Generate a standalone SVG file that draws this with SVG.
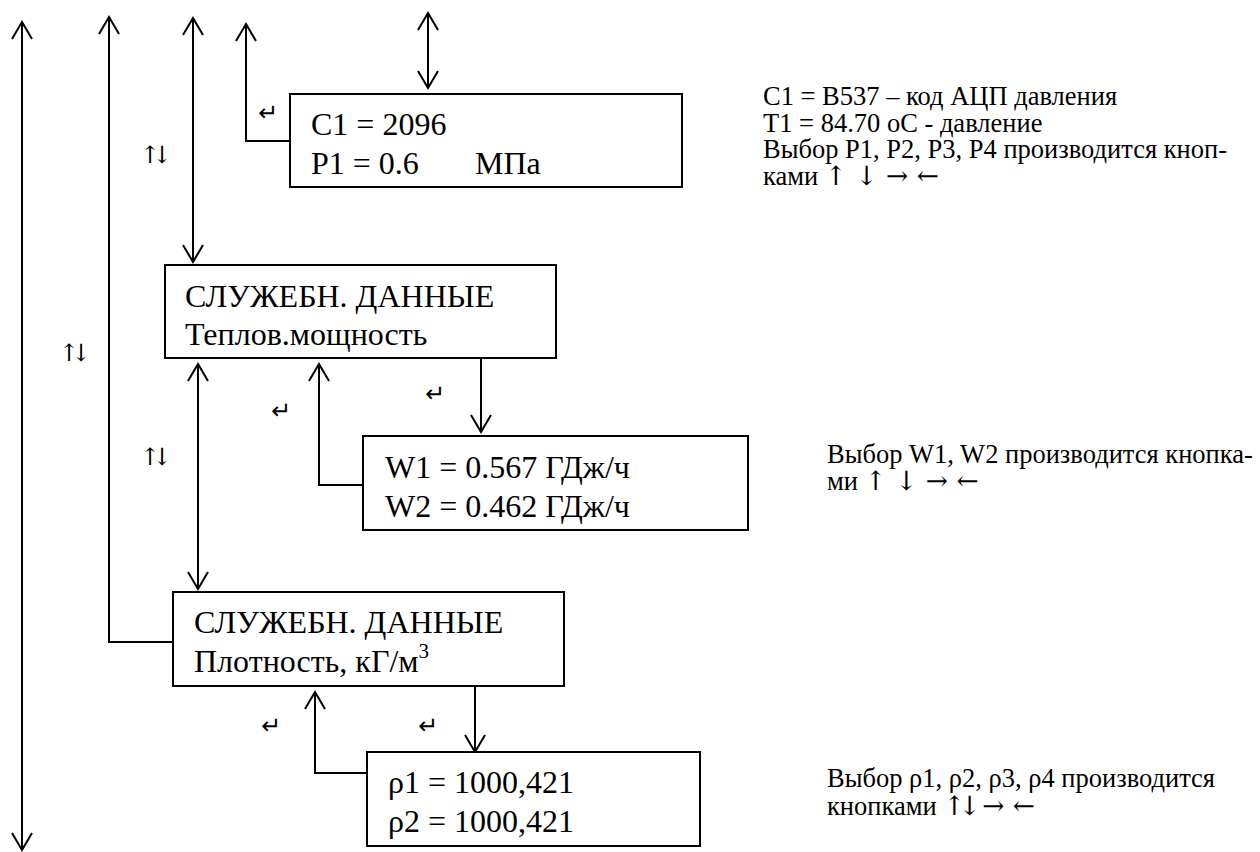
<svg xmlns="http://www.w3.org/2000/svg" width="1260" height="852" viewBox="0 0 1260 852">
<style>
.box{fill:#fff;stroke:#000;stroke-width:2}
.t{font-family:"Liberation Serif","Times New Roman",serif;font-size:32px;fill:#000}
.n{font-family:"Liberation Serif","Times New Roman",serif;font-size:26.5px;fill:#000}
.a{font-family:"DejaVu Serif","DejaVu Sans",serif}
.s{font-family:"DejaVu Serif","DejaVu Sans",serif;font-size:24px;fill:#000;letter-spacing:-8px}
.r{font-family:"DejaVu Sans",sans-serif;font-size:24px;fill:#000}
.c{fill:none;stroke:#000;stroke-width:2}
</style>
<defs>
<marker id="ah" markerUnits="userSpaceOnUse" markerWidth="22" markerHeight="26" viewBox="-19 -13 22 26" refX="0" refY="0" orient="auto-start-reverse">
<path d="M-17,-10 L0,0 L-17,10" fill="none" stroke="#000" stroke-width="2"/>
</marker>
</defs>
<rect width="1260" height="852" fill="#fff"/>
<g id="connectors">
<path class="c" d="M22,22 L22,850" marker-start="url(#ah)" marker-end="url(#ah)"/>
<path class="c" d="M173,642 L109,642 L109,17" marker-end="url(#ah)"/>
<path class="c" d="M193,18 L193,262" marker-start="url(#ah)" marker-end="url(#ah)"/>
<path class="c" d="M290,141 L246,141 L246,24" marker-end="url(#ah)"/>
<path class="c" d="M428,13 L428,88" marker-start="url(#ah)" marker-end="url(#ah)"/>
<path class="c" d="M198,364 L198,589" marker-start="url(#ah)" marker-end="url(#ah)"/>
<path class="c" d="M363,485 L319,485 L319,364" marker-end="url(#ah)"/>
<path class="c" d="M481,358 L481,432" marker-end="url(#ah)"/>
<path class="c" d="M367,773 L315,773 L315,692" marker-end="url(#ah)"/>
<path class="c" d="M475,686 L475,752" marker-end="url(#ah)"/>
</g>
<g id="node-p">
<rect class="box" x="290" y="94" width="392" height="93"/>
<text class="t" x="311" y="135">C1 = 2096</text>
<text class="t" x="311" y="174">P1 = 0.6<tspan x="475">МПа</tspan></text>
</g>
<g id="node-heat">
<rect class="box" x="165" y="265" width="391" height="93"/>
<text class="t" x="185" y="307">СЛУЖЕБН. ДАННЫЕ</text>
<text class="t" x="185" y="345">Теплов.мощность</text>
</g>
<g id="node-w">
<rect class="box" x="363" y="436" width="385" height="94"/>
<text class="t" x="385" y="478">W1 = 0.567 ГДж/ч</text>
<text class="t" x="385" y="517">W2 = 0.462 ГДж/ч</text>
</g>
<g id="node-dens">
<rect class="box" x="173" y="592" width="391" height="94"/>
<text class="t" x="194" y="633">СЛУЖЕБН. ДАННЫЕ</text>
<text class="t" x="194" y="672">Плотность, кГ/м<tspan font-size="21" dy="-14">3</tspan></text>
</g>
<g id="node-rho">
<rect class="box" x="367" y="752" width="333" height="94"/>
<text class="t" x="388" y="793">ρ1 = 1000,421</text>
<text class="t" x="388" y="832">ρ2 = 1000,421</text>
</g>
<g id="labels">
<text class="r" x="258" y="121">↵</text>
<text class="r" x="271" y="419">↵</text>
<text class="r" x="425" y="402">↵</text>
<text class="r" x="261" y="734">↵</text>
<text class="r" x="418" y="734">↵</text>
<text class="s" x="140" y="163">↑↓</text>
<text class="s" x="59" y="361">↑↓</text>
<text class="s" x="140" y="465">↑↓</text>
</g>
<g id="notes">
<text class="n" x="763" y="105">C1 = B537 – код АЦП давления</text>
<text class="n" x="763" y="132">T1 = 84.70 оС - давление</text>
<text class="n" x="763" y="158">Выбор P1, P2, P3, P4 производится кноп-</text>
<text class="n" x="763" y="185">ками <tspan class="a">↑ ↓ → ←</tspan></text>
<text class="n" x="827" y="463">Выбор W1, W2 производится кнопка-</text>
<text class="n" x="827" y="490">ми <tspan class="a">↑ ↓ → ←</tspan></text>
<text class="n" x="827" y="787">Выбор ρ1, ρ2, ρ3, ρ4 производится</text>
<text class="n" x="827" y="815">кнопками <tspan class="a" letter-spacing="-7">↑↓</tspan><tspan class="a"> → ←</tspan></text>
</g>
</svg>
